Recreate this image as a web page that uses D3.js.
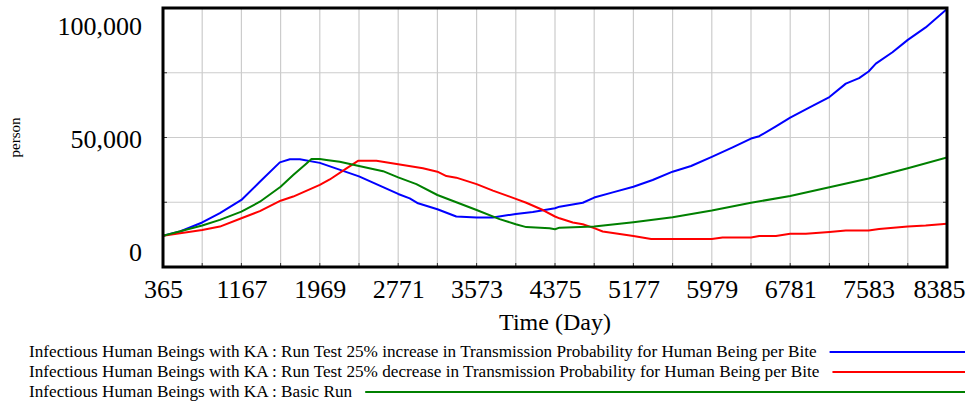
<!DOCTYPE html>
<html><head><meta charset="utf-8">
<script src="https://cdn.jsdelivr.net/npm/d3@7"></script>
<style>
body{margin:0;background:#fff;}
svg{display:block;}
text{font-family:"Liberation Serif","Times New Roman",serif;fill:#000;}
</style>
</head><body>
<svg id="chart" width="977" height="406"></svg>
<script>
// ---- data ----
const timeTicks = [365,1167,1969,2771,3573,4375,5177,5979,6781,7583,8385];
const valueTicks = [0,50000,100000];
const gridTimes = d3.range(365, 8386, 401);
const gridValues = [0,25000,50000,75000,100000];

const seriesNames = [
  "Infectious Human Beings with KA : Run Test 25% increase in Transmission Probability for Human Being per Bite",
  "Infectious Human Beings with KA : Run Test 25% decrease in Transmission Probability for Human Being per Bite",
  "Infectious Human Beings with KA : Basic Run"
];
const seriesColors = ["#0000ff","#ff0000","#008000"];

const increaseRun = [
  [365,12100],[539,13700],[766,17200],[947,20800],[1167,25900],[1356,32900],[1560,40400],[1663,41600],[1765,41600],
  [1969,40200],[2140,38000],[2370,35000],[2771,28200],[2889,26500],[2974,24600],[3172,22300],[3365,19500],
  [3573,19100],[3740,19100],[3974,20500],[4148,21200],[4375,22700],[4421,23300],[4659,24800],[4776,26800],
  [4966,28800],[5177,31000],[5374,33600],[5578,36800],[5767,39000],[5979,42500],[6192,46200],[6380,49600],
  [6464,50500],[6635,54300],[6781,57700],[6975,61500],[7182,65600],[7350,70800],[7486,72900],[7583,75500],
  [7657,78500],[7827,82900],[7984,87700],[8167,92500],[8385,99600]
];
const decreaseRun = [
  [365,12100],[766,14300],[947,15600],[1167,18800],[1356,21600],[1568,25600],[1697,27200],[1969,31700],
  [2071,33800],[2242,38100],[2360,41000],[2548,41000],[2771,39700],[3024,38100],[3172,36800],[3264,35100],
  [3365,34500],[3573,32000],[3740,29500],[3974,26300],[4081,24800],[4251,22000],[4375,19500],[4421,18800],
  [4557,17200],[4659,16500],[4776,15000],[4863,13700],[5177,12000],[5358,10800],[5979,10800],[6089,11400],
  [6380,11400],[6464,12000],[6635,12000],[6781,12800],[6941,12800],[7182,13500],[7350,14100],[7583,14100],
  [7690,14700],[7984,15600],[8167,16000],[8385,16700]
];
const basicRun = [
  [365,12100],[766,16000],[947,18200],[1167,21400],[1356,25200],[1568,31000],[1697,35500],[1833,40000],
  [1884,41700],[1969,41700],[2037,41300],[2173,40600],[2370,39000],[2616,37000],[2771,34600],[2957,32000],
  [3172,27800],[3573,22000],[3808,18500],[3974,16500],[4081,15400],[4319,15000],[4375,14600],[4421,15200],
  [4776,15600],[5177,17300],[5578,19200],[5979,21800],[6380,24800],[6781,27400],[7182,30800],[7583,34200],
  [7984,38100],[8385,42300]
];
const allSeries = [increaseRun, decreaseRun, basicRun];

// ---- layout ----
const svg = d3.select("#chart");
const pLeft = 163, pRight = 947, pTop = 8, pBottom = 267;
const x = d3.scaleLinear().domain([365, 8385]).range([pLeft, pRight]);
const y = d3.scaleLinear().domain([0, 100000]).range([pBottom, pTop]);

// grid
const grid = svg.append("g");
grid.selectAll("line.v").data(gridTimes.slice(1,-1)).join("line")
  .attr("x1", d=>x(d)).attr("x2", d=>x(d)).attr("y1", pTop).attr("y2", pBottom)
  .attr("stroke", "#cccccc").attr("stroke-width", 1.2);
grid.selectAll("line.h").data(gridValues.slice(1,-1)).join("line")
  .attr("y1", d=>y(d)).attr("y2", d=>y(d)).attr("x1", pLeft).attr("x2", pRight)
  .attr("stroke", "#cccccc").attr("stroke-width", 1.2);

// small inner tick marks on frame
const tk = svg.append("g").attr("stroke", "#333").attr("stroke-width", 1);
gridTimes.slice(1,-1).forEach(d => {
  tk.append("line").attr("x1", x(d)).attr("x2", x(d)).attr("y1", pBottom).attr("y2", pBottom-4);
});
gridValues.slice(1,-1).forEach(d => {
  tk.append("line").attr("y1", y(d)).attr("y2", y(d)).attr("x1", pLeft).attr("x2", pLeft+4);
  tk.append("line").attr("y1", y(d)).attr("y2", y(d)).attr("x1", pRight).attr("x2", pRight-4);
});

// clip
svg.append("clipPath").attr("id","plotclip").append("rect")
  .attr("x", pLeft).attr("y", pTop-1).attr("width", pRight-pLeft).attr("height", pBottom-pTop+2);

// series
const line = d3.line().x(d=>x(d[0])).y(d=>y(d[1]));
svg.append("g").attr("clip-path","url(#plotclip)")
  .selectAll("path").data(allSeries).join("path")
  .attr("d", line).attr("fill","none")
  .attr("stroke", (d,i)=>seriesColors[i]).attr("stroke-width", 2)
  .attr("stroke-linejoin","round");

// frame
svg.append("rect").attr("x", pLeft).attr("y", pTop).attr("width", pRight-pLeft).attr("height", pBottom-pTop)
  .attr("fill","none").attr("stroke","#000").attr("stroke-width", 3);

// y axis
const yAxis = svg.append("g").attr("transform", `translate(${pLeft},0)`)
  .call(d3.axisLeft(y).tickValues(valueTicks).tickSize(0).tickFormat(d3.format(",")));
yAxis.select(".domain").remove();
const yOff = {0:-7, 50000:9.5, 100000:26};
yAxis.selectAll("text")
  .attr("x", -21).attr("dy", null).attr("y", d=>yOff[d])
  .style("font-size","26px").style("font-family",'"Liberation Serif","Times New Roman",serif');

// x axis
const xAxis = svg.append("g").attr("transform", `translate(0,${pBottom})`)
  .call(d3.axisBottom(x).tickValues(timeTicks).tickSize(0).tickFormat(d3.format("d")));
xAxis.select(".domain").remove();
xAxis.selectAll("text")
  .attr("dy", null).attr("y", 31)
  .style("font-size","26px").style("font-family",'"Liberation Serif","Times New Roman",serif')
  .filter(d => d === timeTicks[timeTicks.length-1])
  .attr("text-anchor","end").attr("x", 965 - x(timeTicks[timeTicks.length-1]));

// axis titles
svg.append("text").attr("x", (pLeft+pRight)/2).attr("y", 330).attr("text-anchor","middle")
  .style("font-size","24px").text("Time (Day)");
svg.append("text").attr("transform", `translate(20,${(pTop+pBottom)/2}) rotate(-90)`)
  .attr("text-anchor","middle").style("font-size","15px").text("person");

// legend
const legY = [352, 372, 392];
seriesNames.forEach((name, i) => {
  const t = svg.append("text").attr("x", 29).attr("y", legY[i] + 5)
    .style("font-size","17.2px").text(name);
  const w = t.node().getComputedTextLength();
  svg.append("line").attr("x1", 29 + w + 13).attr("x2", 965)
    .attr("y1", legY[i]).attr("y2", legY[i])
    .attr("stroke", seriesColors[i]).attr("stroke-width", 2);
});
</script>
</body></html>
